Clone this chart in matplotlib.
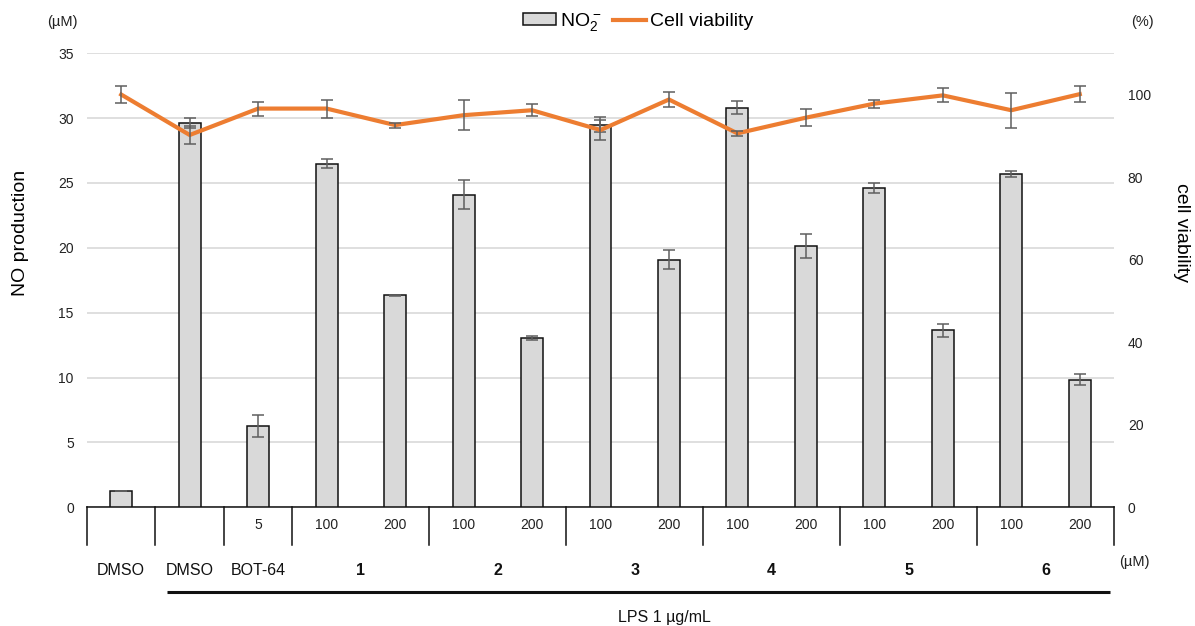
import matplotlib
matplotlib.use('Agg')
import matplotlib.pyplot as plt
import matplotlib.transforms as mtransforms
from matplotlib.patches import Patch
from matplotlib.lines import Line2D
import numpy as np

plt.rcParams['font.family'] = ['Liberation Sans', 'DejaVu Sans']
plt.rcParams['mathtext.fontset'] = 'custom'
plt.rcParams['mathtext.rm'] = 'Liberation Sans'

# DATA
no2 = [1.25, 29.65, 6.3, 26.5, 16.35, 24.1, 13.05, 29.5, 19.1, 30.8, 20.15, 24.6, 13.65, 25.7, 9.85]
no2_err = [0.03, 0.38, 0.85, 0.37, 0.03, 1.1, 0.13, 0.6, 0.7, 0.5, 0.9, 0.4, 0.5, 0.25, 0.45]
viab = [100, 90.2, 96.6, 96.6, 92.6, 95.0, 96.2, 91.4, 98.8, 90.6, 94.4, 97.8, 99.8, 96.2, 100.1]
viab_err = [2.0, 2.3, 1.7, 2.2, 0.6, 3.6, 1.4, 2.4, 1.8, 0.6, 2.0, 1.0, 1.7, 4.2, 2.0]
conc = ['', '', '5', '100', '200', '100', '200', '100', '200', '100', '200', '100', '200', '100', '200']
groups = ['DMSO', 'DMSO', 'BOT-64', '1', '2', '3', '4', '5', '6']
group_pos = [0, 1, 2, 3.5, 5.5, 7.5, 9.5, 11.5, 13.5]
separators = [-0.5, 0.5, 1.5, 2.5, 4.5, 6.5, 8.5, 10.5, 12.5, 14.5]

x = np.arange(len(no2))

fig = plt.figure(figsize=(11.95, 6.26), dpi=100)
ax = fig.add_axes([0.0728, 0.1896, 0.8594, 0.7253])
ax2 = ax.twinx()

# bars
ax.bar(x, no2, width=0.32, color='#D9D9D9', edgecolor='#111111', linewidth=1.1, zorder=3)
ax.errorbar(x, no2, yerr=no2_err, fmt='none', ecolor='#5f5f5f', elinewidth=1.1,
            capsize=4, capthick=1.1, zorder=4)
ax.set_ylim(0, 35)
ax.set_xlim(-0.5, 14.5)
ax.set_yticks(range(0, 36, 5))
ax.grid(axis='y', color='#D9D9D9', linewidth=1.2, zorder=0)
ax.set_axisbelow(True)
ax.tick_params(axis='y', length=0, labelsize=10, pad=9.5, labelcolor='#222222')
ax.set_xticks([])
for s in ['top', 'right', 'left']:
    ax.spines[s].set_visible(False)
ax.spines['bottom'].set_color('#111111')
ax.spines['bottom'].set_linewidth(1.1)

# line
ax2.plot(x, viab, color='#ED7D31', linewidth=3, zorder=5, solid_joinstyle='round')
ax2.errorbar(x, viab, yerr=viab_err, fmt='none', ecolor='#5f5f5f', elinewidth=1.1,
             capsize=4, capthick=1.1, zorder=6)
ax2.set_ylim(0, 110)
ax2.set_yticks(range(0, 101, 20))
ax2.tick_params(axis='y', length=0, labelsize=10, pad=10, labelcolor='#222222')
for s in ['top', 'right', 'left', 'bottom']:
    ax2.spines[s].set_visible(False)

# category table under the axis
trans = mtransforms.blended_transform_factory(ax.transData, ax.transAxes)
for sx in separators:
    ax.plot([sx, sx], [0, -0.082], transform=trans, color='#111111', linewidth=1.1, clip_on=False)
for xi, c in zip(x, conc):
    ax.text(xi, -0.039, c, transform=trans, ha='center', va='center', fontsize=10, color='#222222')
for gx, g in zip(group_pos, groups):
    bold = 'bold' if g.isdigit() else 'normal'
    ax.text(gx, -0.14, g, transform=trans, ha='center', va='center', fontsize=11.5,
            fontweight=bold, color='#111111')
ax.plot([0.67, 14.44], [-0.187, -0.187], transform=trans, color='#111111', linewidth=2.2,
        clip_on=False, solid_capstyle='butt')
ax.text(7.94, -0.242, 'LPS 1 µg/mL', transform=trans, ha='center', va='center',
        fontsize=11.5, color='#111111')
ax.text(14.58, -0.12, '(µM)', transform=trans, ha='left', va='center', fontsize=10.5,
        color='#222222')

# axis titles and units
fig.text(0.052, 0.965, '(µM)', ha='center', va='center', fontsize=10.5, color='#222222')
fig.text(0.956, 0.965, '(%)', ha='center', va='center', fontsize=10.5, color='#222222')
fig.text(0.017, 0.628, 'NO production', rotation=90, ha='center', va='center', fontsize=14)
fig.text(0.989, 0.628, 'cell viability', rotation=270, ha='center', va='center', fontsize=14)

handles = [Patch(facecolor='#D9D9D9', edgecolor='#111111', linewidth=1.1),
           Line2D([0], [0], color='#ED7D31', linewidth=3)]
fig.legend(handles, [r'$\mathregular{NO_2^-}$', 'Cell viability'], loc='center',
           bbox_to_anchor=(0.534, 0.965), ncol=2, frameon=False, fontsize=14,
           handlelength=1.7, handleheight=0.5, handletextpad=0.2, columnspacing=0.6)

plt.savefig('out.png', dpi=100)
